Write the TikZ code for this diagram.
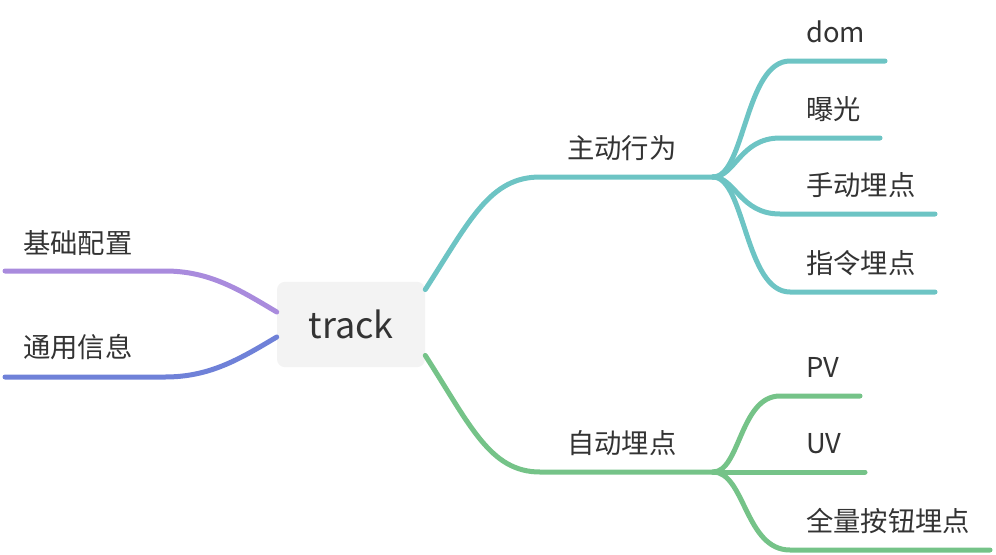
\documentclass[tikz,border=0pt]{standalone}
\usepackage{fontspec}
\setmainfont{Noto Sans CJK SC}
\usetikzlibrary{calc}

\definecolor{txtgray}{HTML}{333333}
\definecolor{rootfill}{HTML}{F3F3F3}
\definecolor{brpurple}{HTML}{A98BDD}
\definecolor{brblue}{HTML}{6F81D8}
\definecolor{brteal}{HTML}{6DC4C4}
\definecolor{brgreen}{HTML}{75C388}

\tikzset{
  rootbox/.style={fill=rootfill,rounded corners=6pt,minimum width=111pt,minimum height=64pt,
    inner sep=0pt,text=txtgray,font=\fontsize{27}{32}\selectfont},
  lbl/.style={anchor=base west,inner sep=0pt,text=txtgray,font=\fontsize{20.5}{24}\selectfont},
  branch/.style={line width=3.75pt,line cap=round,line join=round},
}

\begin{document}
\begin{tikzpicture}[x=0.75pt,y=-0.75pt]
  \useasboundingbox (0,0) rectangle (996,554);

  \node[rootbox] (root) at (351,324.5) {track};

  % left side
  \node[lbl] (jichu) at (23,253) {基础配置};
  \node[lbl] (tongyong) at (23,357) {通用信息};
  \coordinate (jichu-r) at (165,271);
  \coordinate (jichu-l) at (5,271);
  \coordinate (tongyong-r) at (165,377);
  \coordinate (tongyong-l) at (5,377);
  \draw[branch,brpurple] ($(root.west)+(0,-12.5)$) .. controls +(-37,-22) and +(45,0) .. (jichu-r) -- (jichu-l);
  \draw[branch,brblue] ($(root.west)+(0,12.5)$) .. controls +(-37,22) and +(45,0) .. (tongyong-r) -- (tongyong-l);

  % right side, first level
  \node[lbl] (zhudong) at (567,158) {主动行为};
  \node[lbl] (zidong) at (567,453) {自动埋点};
  \coordinate (zhudong-l) at (540,177);
  \coordinate (zidong-l) at (540,472);
  \coordinate (fork1) at (713,177);
  \coordinate (fork2) at (713,472);
  \draw[branch,brteal] ($(root.north east)+(0,8)$) .. controls +(45,-70) and +(-50,0) .. (zhudong-l) -- (fork1);
  \draw[branch,brgreen] ($(root.south east)+(0,-12)$) .. controls +(45,70) and +(-50,0) .. (zidong-l) -- (fork2);

  % right side, second level
  \node[lbl] (dom) at (806,42) {dom};
  \node[lbl] (baoguang) at (806,119) {曝光};
  \node[lbl] (shoudong) at (806,195) {手动埋点};
  \node[lbl] (zhiling) at (806,273) {指令埋点};
  \coordinate (dom-l) at (790,61);        \coordinate (dom-r) at (885,61);
  \coordinate (baoguang-l) at (780,138);  \coordinate (baoguang-r) at (880,138);
  \coordinate (shoudong-l) at (780,214);  \coordinate (shoudong-r) at (935,214);
  \coordinate (zhiling-l) at (790,292);   \coordinate (zhiling-r) at (935,292);
  \draw[branch,brteal] (fork1) .. controls +(32,0) and +(-45,0) .. (dom-l) -- (dom-r);
  \draw[branch,brteal] (fork1) .. controls +(22,0) and +(-40,0) .. (baoguang-l) -- (baoguang-r);
  \draw[branch,brteal] (fork1) .. controls +(22,0) and +(-40,0) .. (shoudong-l) -- (shoudong-r);
  \draw[branch,brteal] (fork1) .. controls +(32,0) and +(-45,0) .. (zhiling-l) -- (zhiling-r);

  \node[lbl] (pv) at (806,377) {PV};
  \node[lbl] (uv) at (806,453) {UV};
  \node[lbl] (quanliang) at (806,531) {全量按钮埋点};
  \coordinate (pv-l) at (780,396);         \coordinate (pv-r) at (860,396);
  \coordinate (uv-r) at (865,472);
  \coordinate (quanliang-l) at (790,550);  \coordinate (quanliang-r) at (990,550);
  \draw[branch,brgreen] (fork2) .. controls +(27,0) and +(-40,0) .. (pv-l) -- (pv-r);
  \draw[branch,brgreen] (fork2) -- (uv-r);
  \draw[branch,brgreen] (fork2) .. controls +(32,0) and +(-45,0) .. (quanliang-l) -- (quanliang-r);
\end{tikzpicture}
\end{document}
